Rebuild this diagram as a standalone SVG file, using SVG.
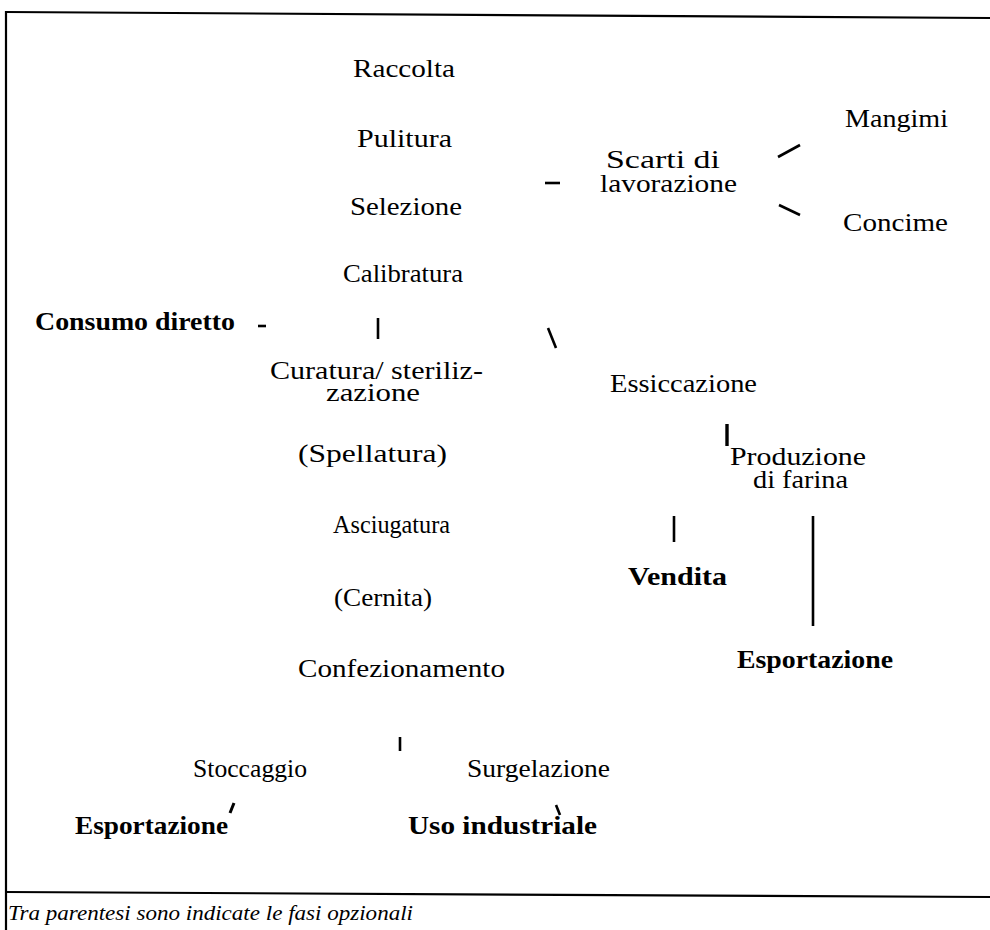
<svg xmlns="http://www.w3.org/2000/svg" width="990" height="930" viewBox="0 0 990 930">
<style>
  text { font-family: "Liberation Serif", "Times New Roman", serif; font-size: 26px; fill: #000; }
  .b { font-weight: bold; }
  .cap { font-style: italic; font-size: 21px; }
  .ln { stroke: #000; stroke-width: 2.6; fill: none; stroke-linecap: butt; }
  .frame { stroke: #000; stroke-width: 2.2; fill: none; }
</style>
<rect width="990" height="930" fill="#fff"/>
<g id="frame">
  <line class="frame" x1="6" y1="12" x2="990" y2="18"/>
  <line class="frame" x1="6" y1="11" x2="6" y2="930"/>
  <line class="frame" x1="6" y1="892" x2="990" y2="897"/>
</g>
<g id="connectors">
  <line class="ln" x1="258" y1="326" x2="266" y2="326"/>
  <line class="ln" x1="378" y1="318" x2="378" y2="339"/>
  <line class="ln" x1="548" y1="328" x2="556" y2="348"/>
  <line class="ln" x1="545" y1="183" x2="560" y2="183"/>
  <line class="ln" x1="778" y1="157" x2="800" y2="145"/>
  <line class="ln" x1="779" y1="205" x2="800" y2="215"/>
  <line class="ln" style="stroke-width:3.4" x1="727" y1="424" x2="727" y2="446"/>
  <line class="ln" x1="674" y1="516" x2="674" y2="542"/>
  <line class="ln" x1="813" y1="516" x2="813" y2="626"/>
  <line class="ln" x1="400" y1="737" x2="400" y2="751"/>
  <line class="ln" style="stroke-width:3" x1="234" y1="803" x2="230" y2="813"/>
  <line class="ln" x1="556" y1="805" x2="560" y2="815"/>
</g>
<g id="raccolta"><text x="353" y="77" textLength="102" lengthAdjust="spacingAndGlyphs">Raccolta</text></g>
<g id="pulitura"><text x="357" y="147" textLength="95" lengthAdjust="spacingAndGlyphs">Pulitura</text></g>
<g id="selezione"><text x="350" y="215" textLength="112" lengthAdjust="spacingAndGlyphs">Selezione</text></g>
<g id="calibratura"><text x="343" y="282" textLength="120" lengthAdjust="spacingAndGlyphs">Calibratura</text></g>
<g id="consumo"><text class="b" x="35" y="330" textLength="200" lengthAdjust="spacingAndGlyphs">Consumo diretto</text></g>
<g id="curatura">
  <text x="270" y="379" textLength="213" lengthAdjust="spacingAndGlyphs">Curatura/ steriliz-</text>
  <text x="326" y="401" textLength="94" lengthAdjust="spacingAndGlyphs">zazione</text>
</g>
<g id="essiccazione"><text x="610" y="392" textLength="147" lengthAdjust="spacingAndGlyphs">Essiccazione</text></g>
<g id="produzione">
  <text x="730" y="465" textLength="136" lengthAdjust="spacingAndGlyphs">Produzione</text>
  <text x="753" y="488" textLength="95" lengthAdjust="spacingAndGlyphs">di farina</text>
</g>
<g id="spellatura"><text x="298" y="462" textLength="149" lengthAdjust="spacingAndGlyphs">(Spellatura)</text></g>
<g id="asciugatura"><text x="333" y="533" textLength="117" lengthAdjust="spacingAndGlyphs">Asciugatura</text></g>
<g id="vendita"><text class="b" x="628" y="585" textLength="99" lengthAdjust="spacingAndGlyphs">Vendita</text></g>
<g id="cernita"><text x="334" y="606" textLength="98" lengthAdjust="spacingAndGlyphs">(Cernita)</text></g>
<g id="esportazione1"><text class="b" x="737" y="668" textLength="156" lengthAdjust="spacingAndGlyphs">Esportazione</text></g>
<g id="confezionamento"><text x="298" y="677" textLength="207" lengthAdjust="spacingAndGlyphs">Confezionamento</text></g>
<g id="stoccaggio"><text x="193" y="777" textLength="114" lengthAdjust="spacingAndGlyphs">Stoccaggio</text></g>
<g id="surgelazione"><text x="467" y="777" textLength="143" lengthAdjust="spacingAndGlyphs">Surgelazione</text></g>
<g id="esportazione2"><text class="b" x="75" y="834" textLength="153" lengthAdjust="spacingAndGlyphs">Esportazione</text></g>
<g id="uso"><text class="b" x="408" y="834" textLength="189" lengthAdjust="spacingAndGlyphs">Uso industriale</text></g>
<g id="scarti">
  <text x="606" y="168" textLength="114" lengthAdjust="spacingAndGlyphs">Scarti di</text>
  <text x="600" y="192" textLength="137" lengthAdjust="spacingAndGlyphs">lavorazione</text>
</g>
<g id="mangimi"><text x="845" y="127" textLength="103" lengthAdjust="spacingAndGlyphs">Mangimi</text></g>
<g id="concime"><text x="843" y="231" textLength="105" lengthAdjust="spacingAndGlyphs">Concime</text></g>
<g id="caption"><text class="cap" x="8" y="920" textLength="405" lengthAdjust="spacingAndGlyphs">Tra parentesi sono indicate le fasi opzionali</text></g>
</svg>
